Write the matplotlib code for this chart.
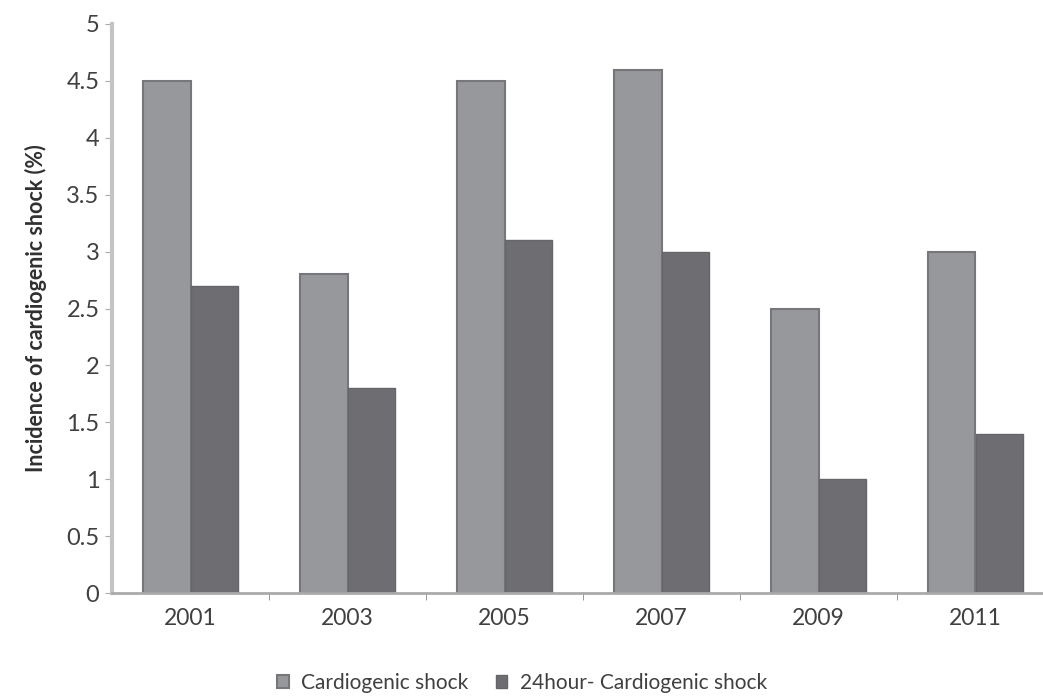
import numpy as np
import matplotlib.pyplot as plt

years = ['2001', '2003', '2005', '2007', '2009', '2011']
shock = [4.5, 2.8, 4.5, 4.6, 2.5, 3.0]
shock_24h = [2.7, 1.8, 3.1, 3.0, 1.0, 1.4]

plt.rcParams['font.family'] = ['Lato', 'DejaVu Sans']

fig = plt.figure(figsize=(10.43, 6.97), dpi=100)
ax = fig.add_axes([112 / 1043, 104 / 697, 942 / 1043, 569 / 697])

x = np.arange(len(years))
w = 0.3
ax.bar(x - w / 2, shock, w, color='#97989c', edgecolor='#77777b', linewidth=1.5,
       label='Cardiogenic shock')
ax.bar(x + w / 2, shock_24h, w, color='#6d6d72', edgecolor='#66666a', linewidth=1.0,
       label='24hour- Cardiogenic shock')

ax.set_xlim(-0.5, len(years) - 0.5)
ax.set_ylim(0, 5)
ax.set_yticks(np.arange(0, 5.01, 0.5))
ax.set_yticklabels(['0', '0.5', '1', '1.5', '2', '2.5', '3', '3.5', '4', '4.5', '5'])
ax.set_xticks(x)
ax.set_xticklabels(years)
ax.set_xticks(np.arange(0.5, len(years) - 0.5, 1), minor=True)

for s in ['top', 'right']:
    ax.spines[s].set_visible(False)
ax.spines['left'].set_color('#c4c4c4')
ax.spines['left'].set_linewidth(3)
ax.spines['bottom'].set_color('#aaaaaa')
ax.spines['bottom'].set_linewidth(2)

ax.tick_params(axis='y', length=5, color='#aaaaaa', labelsize=17, labelcolor='#404040', pad=4)
ax.tick_params(axis='x', which='major', length=0, labelsize=16.5, labelcolor='#404040', pad=11)
ax.tick_params(axis='x', which='minor', length=5, color='#888888')

ax.set_ylabel('Incidence of cardiogenic shock (%)', fontsize=15.5, fontweight='bold',
              color='#303030', labelpad=14)

fig.legend(loc='center', bbox_to_anchor=(522 / 1043, 14 / 697), ncol=2, frameon=False,
           fontsize=15, handlelength=0.55, handleheight=0.55, columnspacing=1.3,
           handletextpad=0.6, labelcolor='#404040')

fig.savefig('out.png', dpi=100)
